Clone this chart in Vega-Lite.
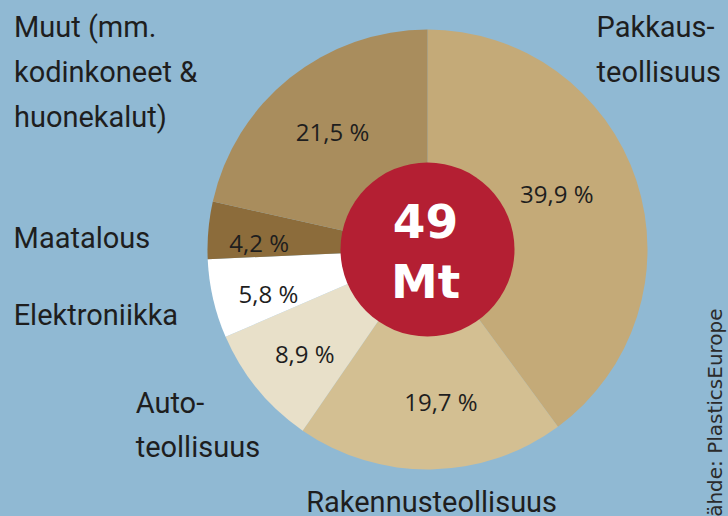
{
  "$schema": "https://vega.github.io/schema/vega-lite/v6.json",
  "width": 601,
  "height": 499,
  "autosize": "none",
  "padding": {"left": 127, "top": 0, "right": 0, "bottom": 17},
  "background": "#90b9d3",
  "config": {"view": {"stroke": null}},
  "title": {
    "text": "Lähde: PlasticsEurope",
    "orient": "right",
    "anchor": "end",
    "frame": "group",
    "angle": 270,
    "align": "left",
    "baseline": "alphabetic",
    "offset": -26,
    "dx": -29,
    "font": "DejaVu Sans",
    "fontSize": 20,
    "fontWeight": "normal",
    "color": "#2b2b2b"
  },
  "datasets": {
    "sektorit": [
      {"sektori": "Pakkausteollisuus", "nimi": "Pakkaus-\nteollisuus", "osuus": 39.9, "teksti": "39,9 %", "jarjestys": 1},
      {"sektori": "Rakennusteollisuus", "nimi": "Rakennusteollisuus", "osuus": 19.7, "teksti": "19,7 %", "jarjestys": 2},
      {"sektori": "Autoteollisuus", "nimi": "Auto-\nteollisuus", "osuus": 8.9, "teksti": "8,9 %", "jarjestys": 3},
      {"sektori": "Elektroniikka", "nimi": "Elektroniikka", "osuus": 5.8, "teksti": "5,8 %", "jarjestys": 4},
      {"sektori": "Maatalous", "nimi": "Maatalous", "osuus": 4.2, "teksti": "4,2 %", "jarjestys": 5},
      {"sektori": "Muut", "nimi": "Muut (mm.\nkodinkoneet &\nhuonekalut)", "osuus": 21.5, "teksti": "21,5 %", "jarjestys": 6}
    ],
    "kokonais": [
      {"maara": 49, "teksti": "49\nMt"}
    ]
  },
  "resolve": {"scale": {"theta": "independent"}},
  "layer": [
    {
      "data": {"name": "sektorit"},
      "mark": {"type": "arc", "outerRadius": 220},
      "encoding": {
        "theta": {"field": "osuus", "type": "quantitative", "stack": true},
        "order": {"field": "jarjestys", "type": "quantitative"},
        "color": {
          "field": "sektori",
          "type": "nominal",
          "legend": null,
          "scale": {
            "domain": ["Pakkausteollisuus", "Rakennusteollisuus", "Autoteollisuus", "Elektroniikka", "Maatalous", "Muut"],
            "range": ["#c4aa78", "#d3bf92", "#e8e0c9", "#ffffff", "#8c6c3b", "#a98d5d"]
          }
        }
      }
    },
    {
      "data": {"name": "sektorit"},
      "mark": {"type": "text", "radius": 155, "dx": -18, "dy": -5, "font": "Open Sans", "fontSize": 24, "color": "#1e1e1e", "align": "center", "baseline": "middle"},
      "encoding": {
        "theta": {"field": "osuus", "type": "quantitative", "stack": true},
        "order": {"field": "jarjestys", "type": "quantitative"},
        "detail": {"field": "sektori", "type": "nominal"},
        "text": {"condition": {"test": "datum.sektori === 'Pakkausteollisuus'", "field": "teksti"}, "value": ""}
      }
    },
    {
      "data": {"name": "sektorit"},
      "mark": {"type": "text", "radius": 155, "dx": 11, "dy": 0, "font": "Open Sans", "fontSize": 24, "color": "#1e1e1e", "align": "center", "baseline": "middle"},
      "encoding": {
        "theta": {"field": "osuus", "type": "quantitative", "stack": true},
        "order": {"field": "jarjestys", "type": "quantitative"},
        "detail": {"field": "sektori", "type": "nominal"},
        "text": {"condition": {"test": "datum.sektori === 'Rakennusteollisuus'", "field": "teksti"}, "value": ""}
      }
    },
    {
      "data": {"name": "sektorit"},
      "mark": {"type": "text", "radius": 155, "dx": -3, "dy": 8, "font": "Open Sans", "fontSize": 24, "color": "#1e1e1e", "align": "center", "baseline": "middle"},
      "encoding": {
        "theta": {"field": "osuus", "type": "quantitative", "stack": true},
        "order": {"field": "jarjestys", "type": "quantitative"},
        "detail": {"field": "sektori", "type": "nominal"},
        "text": {"condition": {"test": "datum.sektori === 'Autoteollisuus'", "field": "teksti"}, "value": ""}
      }
    },
    {
      "data": {"name": "sektorit"},
      "mark": {"type": "text", "radius": 155, "dx": -8, "dy": 12, "font": "Open Sans", "fontSize": 24, "color": "#1e1e1e", "align": "center", "baseline": "middle"},
      "encoding": {
        "theta": {"field": "osuus", "type": "quantitative", "stack": true},
        "order": {"field": "jarjestys", "type": "quantitative"},
        "detail": {"field": "sektori", "type": "nominal"},
        "text": {"condition": {"test": "datum.sektori === 'Elektroniikka'", "field": "teksti"}, "value": ""}
      }
    },
    {
      "data": {"name": "sektorit"},
      "mark": {"type": "text", "radius": 155, "dx": -14, "dy": 9, "font": "Open Sans", "fontSize": 24, "color": "#1e1e1e", "align": "center", "baseline": "middle"},
      "encoding": {
        "theta": {"field": "osuus", "type": "quantitative", "stack": true},
        "order": {"field": "jarjestys", "type": "quantitative"},
        "detail": {"field": "sektori", "type": "nominal"},
        "text": {"condition": {"test": "datum.sektori === 'Maatalous'", "field": "teksti"}, "value": ""}
      }
    },
    {
      "data": {"name": "sektorit"},
      "mark": {"type": "text", "radius": 155, "dx": 2, "dy": 5, "font": "Open Sans", "fontSize": 24, "color": "#1e1e1e", "align": "center", "baseline": "middle"},
      "encoding": {
        "theta": {"field": "osuus", "type": "quantitative", "stack": true},
        "order": {"field": "jarjestys", "type": "quantitative"},
        "detail": {"field": "sektori", "type": "nominal"},
        "text": {"condition": {"test": "datum.sektori === 'Muut'", "field": "teksti"}, "value": ""}
      }
    },
    {
      "data": {"name": "kokonais"},
      "mark": {"type": "arc", "outerRadius": 87, "color": "#b41f33"},
      "encoding": {
        "theta": {"field": "maara", "type": "quantitative", "stack": true}
      }
    },
    {
      "data": {"name": "kokonais"},
      "mark": {"type": "text", "radius": 0, "dx": -2, "dy": -11.5, "font": "DejaVu Sans", "fontWeight": "bold", "fontSize": 47, "color": "#ffffff", "align": "center", "baseline": "alphabetic", "lineBreak": "\n", "lineHeight": 60},
      "encoding": {
        "theta": {"field": "maara", "type": "quantitative", "stack": true},
        "text": {"field": "teksti", "type": "nominal"}
      }
    },
    {
      "data": {"name": "sektorit"},
      "mark": {"type": "text", "radius": 220, "dx": -40, "dy": -144, "font": "Roboto", "fontSize": 29, "color": "#1e1e1e", "align": "left", "baseline": "alphabetic", "lineBreak": "\n", "lineHeight": 45},
      "encoding": {
        "theta": {"field": "osuus", "type": "quantitative", "stack": true},
        "order": {"field": "jarjestys", "type": "quantitative"},
        "detail": {"field": "sektori", "type": "nominal"},
        "text": {"condition": {"test": "datum.sektori === 'Pakkausteollisuus'", "field": "nimi"}, "value": ""}
      }
    },
    {
      "data": {"name": "sektorit"},
      "mark": {"type": "text", "radius": 262.5, "dx": 0, "dy": 0, "font": "Roboto", "fontSize": 29, "color": "#1e1e1e", "align": "center", "baseline": "alphabetic", "lineBreak": "\n", "lineHeight": 45},
      "encoding": {
        "theta": {"field": "osuus", "type": "quantitative", "stack": true},
        "order": {"field": "jarjestys", "type": "quantitative"},
        "detail": {"field": "sektori", "type": "nominal"},
        "text": {"condition": {"test": "datum.sektori === 'Rakennusteollisuus'", "field": "nimi"}, "value": ""}
      }
    },
    {
      "data": {"name": "sektorit"},
      "mark": {"type": "text", "radius": 260, "dx": -91, "dy": -2, "font": "Roboto", "fontSize": 29, "color": "#1e1e1e", "align": "left", "baseline": "alphabetic", "lineBreak": "\n", "lineHeight": 44},
      "encoding": {
        "theta": {"field": "osuus", "type": "quantitative", "stack": true},
        "order": {"field": "jarjestys", "type": "quantitative"},
        "detail": {"field": "sektori", "type": "nominal"},
        "text": {"condition": {"test": "datum.sektori === 'Autoteollisuus'", "field": "nimi"}, "value": ""}
      }
    },
    {
      "data": {"name": "sektorit"},
      "mark": {"type": "text", "radius": 280, "dx": -141, "dy": 13, "font": "Roboto", "fontSize": 29, "color": "#1e1e1e", "align": "left", "baseline": "alphabetic", "lineBreak": "\n", "lineHeight": 45},
      "encoding": {
        "theta": {"field": "osuus", "type": "quantitative", "stack": true},
        "order": {"field": "jarjestys", "type": "quantitative"},
        "detail": {"field": "sektori", "type": "nominal"},
        "text": {"condition": {"test": "datum.sektori === 'Elektroniikka'", "field": "nimi"}, "value": ""}
      }
    },
    {
      "data": {"name": "sektorit"},
      "mark": {"type": "text", "radius": 280, "dx": -135, "dy": 23, "font": "Roboto", "fontSize": 29, "color": "#1e1e1e", "align": "left", "baseline": "alphabetic", "lineBreak": "\n", "lineHeight": 45},
      "encoding": {
        "theta": {"field": "osuus", "type": "quantitative", "stack": true},
        "order": {"field": "jarjestys", "type": "quantitative"},
        "detail": {"field": "sektori", "type": "nominal"},
        "text": {"condition": {"test": "datum.sektori === 'Maatalous'", "field": "nimi"}, "value": ""}
      }
    },
    {
      "data": {"name": "sektorit"},
      "mark": {"type": "text", "radius": 260, "dx": -251, "dy": -9.5, "font": "Roboto", "fontSize": 29, "color": "#1e1e1e", "align": "left", "baseline": "alphabetic", "lineBreak": "\n", "lineHeight": 45},
      "encoding": {
        "theta": {"field": "osuus", "type": "quantitative", "stack": true},
        "order": {"field": "jarjestys", "type": "quantitative"},
        "detail": {"field": "sektori", "type": "nominal"},
        "text": {"condition": {"test": "datum.sektori === 'Muut'", "field": "nimi"}, "value": ""}
      }
    }
  ]
}
